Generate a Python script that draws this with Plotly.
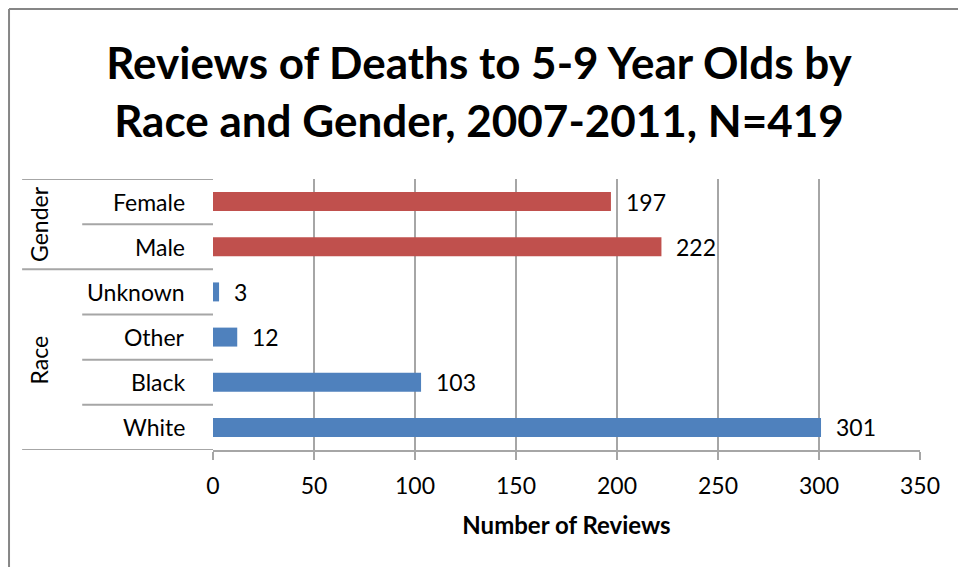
import plotly.graph_objects as go

# Categories listed bottom-to-top as they appear on the chart
categories = ["White", "Black", "Other", "Unknown", "Male", "Female"]
groups = ["Race", "Race", "Race", "Race", "Gender", "Gender"]
reviews = [301, 103, 12, 3, 222, 197]
group_colors = {"Race": "#4F81BD", "Gender": "#C0504D"}
x_ticks = [0, 50, 100, 150, 200, 250, 300, 350]
title_text = "Reviews of Deaths to 5-9 Year Olds by<br>Race and Gender, 2007-2011, N=419"
x_title = "Number of Reviews"

FONT = "Lato"
GRID = "#A6A6A6"
positions = list(range(len(categories)))

fig = go.Figure()
fig.add_trace(go.Bar(
    y=positions,
    x=reviews,
    orientation="h",
    marker=dict(color=[group_colors[g] for g in groups], line=dict(width=0)),
    width=0.42,
    hoverinfo="skip",
))

annotations = []
# value labels to the right of each bar
for p, v in zip(positions, reviews):
    annotations.append(dict(
        x=v, y=p, xref="x", yref="y", text=str(v), showarrow=False,
        xanchor="left", xshift=13, font=dict(family=FONT, size=23, color="#000000"),
    ))
# category labels
for p, c in zip(positions, categories):
    annotations.append(dict(
        x=-0.037, y=p, xref="paper", yref="y", text=c, showarrow=False,
        xanchor="right", font=dict(family=FONT, size=23, color="#000000"),
    ))
# group labels, centred on their span of categories
spans = {}
for p, g in zip(positions, groups):
    spans.setdefault(g, []).append(p)
for g, ps in spans.items():
    annotations.append(dict(
        x=-0.269, y=(min(ps) + max(ps)) / 2, xref="paper", yref="y", text=g,
        showarrow=False, textangle=-90, font=dict(family=FONT, size=23, color="#000000"),
    ))

shapes = []
# separators between categories; full-width ones at group boundaries
for i in range(len(positions) + 1):
    yb = i - 0.5
    if i == 0 or i == len(positions) or groups[i - 1] != groups[i]:
        x0 = -0.270
    else:
        x0 = -0.185
    shapes.append(dict(type="line", xref="paper", yref="y", x0=x0, x1=0,
                       y0=yb, y1=yb, line=dict(color=GRID, width=2)))
# outer chart frame (left and top edges)
FRAME = "#868686"
shapes.append(dict(type="line", xref="paper", yref="paper", x0=-0.2885, x1=-0.2885,
                   y0=-0.5, y1=1.627, line=dict(color=FRAME, width=2)))
shapes.append(dict(type="line", xref="paper", yref="paper", x0=-0.2885, x1=1.2,
                   y0=1.627, y1=1.627, line=dict(color=FRAME, width=2)))

fig.update_layout(
    width=958, height=567,
    margin=dict(l=213, r=38, t=179, b=117),
    paper_bgcolor="white", plot_bgcolor="white",
    showlegend=False,
    title=dict(text=title_text, x=0.5, xanchor="center", y=0.86, yanchor="middle",
               yref="container",
               font=dict(family=FONT, size=44, color="#000000", weight="bold")),
    xaxis=dict(
        range=[0, 350], tickvals=x_ticks, showgrid=True, gridcolor=GRID, gridwidth=2,
        showline=True, linecolor=GRID, linewidth=2, ticks="outside", ticklen=8,
        tickcolor=GRID, tickwidth=2, zeroline=False, ticklabelstandoff=6,
        tickfont=dict(family=FONT, size=23, color="#000000"),
        title=dict(text=x_title, standoff=20,
                   font=dict(family=FONT, size=24, color="#000000", weight="bold")),
    ),
    yaxis=dict(
        range=[-0.5, 5.5], showticklabels=False, showgrid=False, zeroline=False,
        showline=False,
    ),
    annotations=annotations,
    shapes=shapes,
)

fig.write_html("out.html")
